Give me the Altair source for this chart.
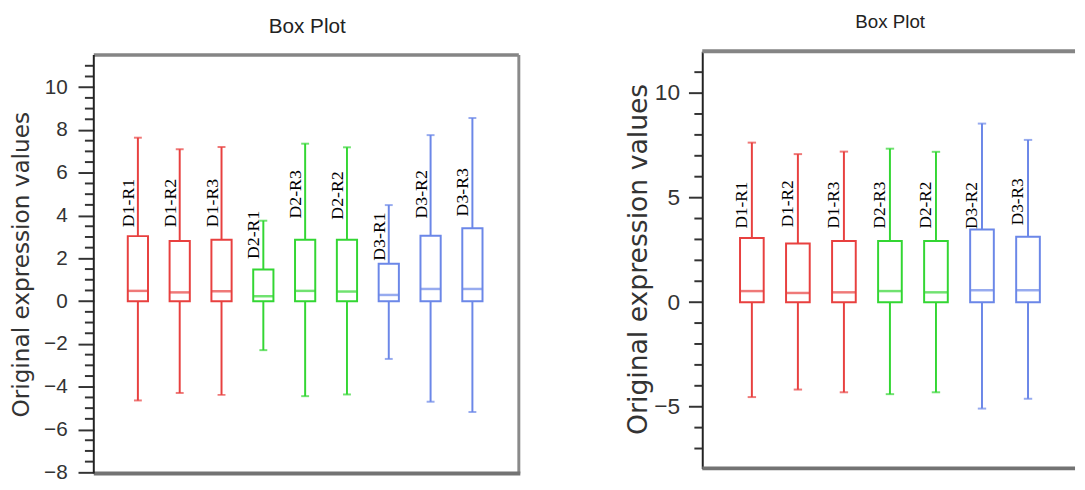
import altair as alt
import pandas as pd

RED = "#e8403f"
GREEN = "#33d633"
BLUE = "#6b87e8"
GROUP_DOMAIN = ["D1", "D2", "D3"]
GROUP_RANGE = [RED, GREEN, BLUE]

TITLE = "Box Plot"
Y_TITLE = "Original expression values"

# ---- left panel ----
left_names = ["D1-R1", "D1-R2", "D1-R3", "D2-R1", "D2-R3", "D2-R2", "D3-R1", "D3-R2", "D3-R3"]
left_groups = ["D1", "D1", "D1", "D2", "D2", "D2", "D3", "D3", "D3"]
left_min = [-4.64, -4.29, -4.38, -2.29, -4.44, -4.36, -2.70, -4.70, -5.18]
left_q1 = [0.0, 0.0, 0.0, 0.0, 0.0, 0.0, 0.0, 0.0, 0.0]
left_med = [0.48, 0.41, 0.46, 0.23, 0.48, 0.45, 0.29, 0.57, 0.57]
left_q3 = [3.04, 2.81, 2.87, 1.48, 2.87, 2.87, 1.75, 3.06, 3.41]
left_max = [7.64, 7.10, 7.20, 3.76, 7.36, 7.19, 4.49, 7.76, 8.56]
left_label_y = [3.46, 3.46, 3.46, 1.97, 3.86, 3.81, 1.89, 3.86, 3.96]
left_major = [-8, -6, -4, -2, 0, 2, 4, 6, 8, 10]
left_minor = [-7.5, -7, -6.5, -5.5, -5, -4.5, -3.5, -3, -2.5, -1.5, -1, -0.5,
              0.5, 1, 1.5, 2.5, 3, 3.5, 4.5, 5, 5.5, 6.5, 7, 7.5, 8.5, 9, 9.5,
              10.5, 11]

# ---- right panel ----
right_names = ["D1-R1", "D1-R2", "D1-R3", "D2-R3", "D2-R2", "D3-R2", "D3-R3"]
right_groups = ["D1", "D1", "D1", "D2", "D2", "D3", "D3"]
right_min = [-4.54, -4.18, -4.31, -4.40, -4.31, -5.09, -4.62]
right_q1 = [0.0, 0.0, 0.0, 0.0, 0.0, 0.0, 0.0]
right_med = [0.53, 0.44, 0.47, 0.53, 0.47, 0.57, 0.57]
right_q3 = [3.07, 2.81, 2.92, 2.92, 2.92, 3.47, 3.13]
right_max = [7.63, 7.08, 7.20, 7.34, 7.19, 8.54, 7.76]
right_label_y = [3.52, 3.58, 3.52, 3.52, 3.52, 3.50, 3.68]
right_major = [-5, 0, 5, 10]
right_minor = [-7, -6, -4, -3, -2, -1, 1, 2, 3, 4, 6, 7, 8, 9, 11]

SANS_NARROW = "Liberation Sans Narrow, Liberation Sans, Arial, sans-serif"


def panel(names, groups, mins, q1s, meds, q3s, maxs, label_y, major, minor, c):
    W, H = c["width"], c["height"]
    df = pd.DataFrame(dict(name=names, group=groups, vmin=mins, q1=q1s, med=meds,
                           q3=q3s, vmax=maxs, ly=label_y))
    minor_df = pd.DataFrame(dict(v=minor))
    one = pd.DataFrame(dict(k=[0]))

    ysc = alt.Scale(domain=c["ydom"], nice=False, zero=False)
    yax = alt.Axis(values=major, grid=False, domain=c["axis_domain"],
                   domainColor="#222222", domainWidth=2,
                   tickSize=c["tick_major"], tickWidth=2, tickColor="#333333",
                   labelFont=SANS_NARROW, labelFontSize=c["label_size"],
                   labelColor="#333333", labelPadding=c["label_pad"],
                   title=Y_TITLE, titleFont="DejaVu Sans", titleFontSize=c["ytitle_size"],
                   titleFontWeight="normal", titleColor="#333333", titleAngle=270,
                   titleAlign="center", titleBaseline="middle",
                   titleX=c["ytitle_x"], titleY=c["ytitle_y"])

    def Y(field):
        return alt.Y(field, type="quantitative", scale=ysc, axis=yax)

    xenc = alt.X("name:N", sort=names, axis=None,
                 scale=alt.Scale(type="band", paddingInner=0,
                                 paddingOuter=c["po"], align=c["align"]))
    col = alt.Color("group:N", scale=alt.Scale(domain=GROUP_DOMAIN, range=GROUP_RANGE),
                    legend=None)
    strk = alt.Stroke("group:N", scale=alt.Scale(domain=GROUP_DOMAIN, range=GROUP_RANGE),
                      legend=None)

    base = alt.Chart(df)
    whisk = base.mark_rule(strokeWidth=2).encode(x=xenc, y=Y("vmin"), y2="vmax", color=col)
    box = base.mark_bar(size=c["box_w"], fill="white", strokeWidth=2).encode(
        x=xenc, y=Y("q1"), y2="q3", stroke=strk)
    med = base.mark_tick(size=c["box_w"], thickness=2.5).encode(x=xenc, y=Y("med"), color=col)
    cap_hi = base.mark_tick(size=c["cap_w"], thickness=2).encode(x=xenc, y=Y("vmax"), color=col)
    cap_lo = base.mark_tick(size=c["cap_w"], thickness=2).encode(x=xenc, y=Y("vmin"), color=col)
    labels = base.mark_text(angle=270, align="left", baseline="alphabetic", dy=c["label_dy"],
                            font="Liberation Serif", fontSize=c["lab_size"],
                            color="black").encode(x=xenc, y=Y("ly"), text="name:N")

    minor_ticks = alt.Chart(minor_df).mark_rule(color="#333333", strokeWidth=2).encode(
        y=Y("v"), x=alt.value(-c["tick_minor"]), x2=alt.value(0))

    title = alt.Chart(one).mark_text(text=TITLE, font=SANS_NARROW, fontSize=c["title_size"],
                                     align="center", baseline="alphabetic",
                                     color="#222222").encode(
        x=alt.value(c["title_x"]), y=alt.value(c["title_y"]))

    layers = [whisk, box, med, cap_hi, cap_lo, labels, minor_ticks, title]

    if c["frame"] == "left":
        top_v, bot_v = 11.5, -8.05
        fr = alt.Chart(one)
        layers += [
            fr.mark_rule(color="#858585", strokeWidth=3.5).encode(
                x=alt.value(0), x2=alt.value(W), y=alt.YDatum(top_v, scale=ysc, axis=yax)),
            fr.mark_rule(color="#8a8a8a", strokeWidth=3).encode(
                x=alt.value(W), y=alt.YDatum(bot_v, scale=ysc, axis=yax),
                y2=alt.Y2Datum(top_v)),
            fr.mark_rule(color="#737373", strokeWidth=4).encode(
                x=alt.value(0), x2=alt.value(W + 1.5), y=alt.YDatum(bot_v, scale=ysc, axis=yax)),
            fr.mark_rule(color="#222222", strokeWidth=2).encode(
                x=alt.value(0), y=alt.YDatum(bot_v, scale=ysc, axis=yax),
                y2=alt.Y2Datum(top_v)),
        ]
    else:
        fr = alt.Chart(one)
        layers += [
            fr.mark_rule(color="#858585", strokeWidth=4).encode(
                x=alt.value(0), x2=alt.value(W), y=alt.value(0)),
            fr.mark_rule(color="#737373", strokeWidth=4).encode(
                x=alt.value(0), x2=alt.value(W), y=alt.value(H)),
        ]

    return alt.layer(*layers).properties(width=W, height=H)


left_cfg = dict(width=431, height=427, ydom=[-8, 11.68], axis_domain=False,
                tick_major=16, tick_minor=9, label_size=21, label_pad=11,
                ytitle_size=23.5, ytitle_x=-73, ytitle_y=216,
                po=0.5825, align=0.476, box_w=20.5, cap_w=8, label_dy=-4, lab_size=18,
                title_size=21, title_x=216.4, title_y=-18.2, frame="left")
right_cfg = dict(width=378, height=423, ydom=[-7.95, 12.0], axis_domain=True,
                 tick_major=14, tick_minor=8, label_size=23, label_pad=9,
                 ytitle_size=27, ytitle_x=-64.7, ytitle_y=210.5,
                 po=0.5497, align=0.5256, box_w=24, cap_w=8.5, label_dy=-5, lab_size=17.5,
                 title_size=19, title_x=190.6, title_y=-23.3, frame="right")

left = panel(left_names, left_groups, left_min, left_q1, left_med, left_q3, left_max,
             left_label_y, left_major, left_minor, left_cfg)
right = panel(right_names, right_groups, right_min, right_q1, right_med, right_q3, right_max,
              right_label_y, right_major, right_minor, right_cfg)

chart = alt.hconcat(left, right, spacing=186, bounds="flush").properties(
    padding={"left": 1, "top": 1.5, "right": 0, "bottom": 0},
    background="white",
).configure_view(strokeWidth=0)

chart.save("out.html", embed_options={"renderer": "svg", "actions": False})
